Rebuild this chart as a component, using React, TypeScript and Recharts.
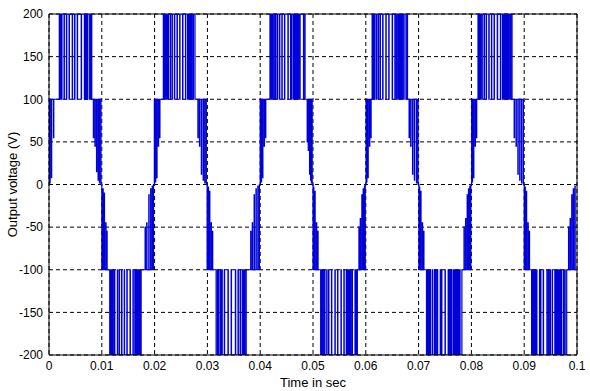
import { LineChart, Line, XAxis, YAxis, CartesianGrid, ReferenceLine } from "recharts";

// all times in ms, voltages in V
const xTicks = [0, 0.01, 0.02, 0.03, 0.04, 0.05, 0.06, 0.07, 0.08, 0.09, 0.1];
const xTickLabels = ["0", "0.01", "0.02", "0.03", "0.04", "0.05", "0.06", "0.07", "0.08", "0.09", "0.1"];
const yTicks = [-200, -150, -100, -50, 0, 50, 100, 150, 200];

const zeroCrossings = [9.85, 19.8, 29.8, 39.85, 49.85, 59.9, 69.9, 79.9, 89.85];

// outer band (100 <-> 200): first = band start, last = band end, middle = switching columns
const outer0 = [1.95, 2.1, 2.25, 2.4, 2.85, 3.3, 3.8, 4.4, 4.85, 5.35, 6.1, 6.7, 6.85, 7.0, 7.15, 7.3, 7.7, 7.9, 8.1];
const outer1 = [11.5, 11.65, 11.8, 11.95, 12.1, 12.4, 12.95, 13.3, 13.75, 14.25, 14.75, 15.35, 15.9, 16.25, 16.4, 16.55, 16.7, 16.85, 17.0, 17.25, 17.45];
const outer2 = [21.65, 21.8, 21.95, 22.1, 22.3, 22.55, 22.95, 23.3, 23.75, 24.25, 24.75, 25.3, 25.85, 26.25, 26.4, 26.55, 26.7, 26.85, 27.0, 27.3, 27.65];
const outer3 = [31.65, 31.9, 32.1, 32.45, 32.6, 32.75, 33.2, 33.9, 34.5, 35.3, 35.8, 36.2, 36.6, 36.75, 36.9, 37.05, 37.35];
const outer4 = [41.85, 42.0, 42.15, 42.3, 42.6, 42.9, 43.25, 43.65, 44.1, 44.6, 45.25, 45.75, 45.95, 46.3, 46.45, 46.6, 46.75, 46.9, 47.05, 47.25, 47.5, 48.2, 48.5];
const outer5 = [51.45, 51.6, 51.75, 51.9, 52.2, 52.6, 52.95, 53.5, 54.15, 54.65, 55.3, 55.85, 56.3, 56.45, 56.65, 56.8, 56.95, 57.1, 57.4, 57.95, 58.15, 58.4];
const outer6 = [61.2, 61.35, 61.5, 61.65, 62.0, 62.35, 62.7, 63.2, 63.8, 64.35, 65.0, 65.5, 65.8, 66.1, 66.25, 66.4, 66.55, 66.7, 66.9, 67.2, 67.6, 67.9];
const outer7 = [71.5, 71.65, 71.8, 72.0, 72.2, 72.6, 73.0, 73.25, 73.55, 74.1, 74.35, 75.0, 75.6, 75.8, 76.0, 76.25, 76.6, 76.8, 77.0, 77.2, 77.4, 77.6, 77.8, 78.2];
const outer8 = [81.25, 81.4, 81.55, 81.7, 82.0, 82.4, 82.8, 83.3, 83.8, 84.3, 84.9, 85.5, 85.9, 86.1, 86.3, 86.5, 86.7, 86.9, 87.1, 87.4, 87.7];
const outer9 = [91.4, 91.55, 91.7, 91.9, 92.1, 92.35, 92.9, 93.1, 93.6, 94.3, 94.6, 94.9, 95.3, 95.8, 96.0, 96.2, 96.4, 96.6, 96.8, 97.0, 97.4, 97.7, 98.05];

// inner band spikes: [time, tip voltage]
const rise0 = [[0.15, 2], [0.45, 8], [0.85, 55]];
const fall0 = [[8.4, 55], [8.7, 45], [9.0, 15], [9.3, 5], [9.55, 2]];
const rise1 = [[10.2, -5], [10.45, -10], [10.75, -45], [10.95, -55]];
const fall1 = [[18.2, -50], [18.5, -45], [18.9, -12], [19.25, -5], [19.55, -2]];
const rise2 = [[20.15, 3], [20.4, 8], [20.7, 45], [20.95, 55]];
const fall2 = [[28.2, 55], [28.5, 45], [28.85, 12], [29.2, 5], [29.5, 2]];
const rise3 = [[30.15, -3], [30.4, -8], [30.7, -45], [30.95, -55]];
const fall3 = [[38.2, -55], [38.5, -45], [38.85, -12], [39.2, -5], [39.55, -2]];
const rise4 = [[40.2, 3], [40.45, 8], [40.75, 45], [41.0, 55]];
const fall4 = [[48.9, 50], [49.1, 40], [49.35, 12], [49.55, 5], [49.7, 2]];
const rise5 = [[50.1, -3], [50.35, -8], [50.65, -45], [50.9, -55]];
const fall5 = [[58.7, -50], [58.95, -40], [59.25, -12], [59.5, -5], [59.75, -2]];
const rise6 = [[60.15, 3], [60.4, 8], [60.7, 45], [60.95, 55]];
const fall6 = [[68.2, 55], [68.5, 45], [68.85, 12], [69.2, 5], [69.6, 2]];
const rise7 = [[70.15, -3], [70.4, -8], [70.7, -45], [70.95, -55]];
const fall7 = [[78.6, -50], [78.9, -40], [79.2, -12], [79.45, -5], [79.7, -2]];
const rise8 = [[80.15, 3], [80.4, 8], [80.7, 45], [80.95, 55]];
const fall8 = [[88.1, 55], [88.45, 45], [88.8, 12], [89.15, 5], [89.5, 2]];
const rise9 = [[90.15, -3], [90.4, -8], [90.7, -45], [90.95, -55]];
const fall9 = [[98.4, -50], [98.7, -40], [99.0, -12], [99.3, -5], [99.6, -2]];

const halves = [
  { sign: 1, rise: rise0, outer: outer0, fall: fall0 },
  { sign: -1, rise: rise1, outer: outer1, fall: fall1 },
  { sign: 1, rise: rise2, outer: outer2, fall: fall2 },
  { sign: -1, rise: rise3, outer: outer3, fall: fall3 },
  { sign: 1, rise: rise4, outer: outer4, fall: fall4 },
  { sign: -1, rise: rise5, outer: outer5, fall: fall5 },
  { sign: 1, rise: rise6, outer: outer6, fall: fall6 },
  { sign: -1, rise: rise7, outer: outer7, fall: fall7 },
  { sign: 1, rise: rise8, outer: outer8, fall: fall8 },
  { sign: -1, rise: rise9, outer: outer9, fall: fall9 },
];

const PULSE = 0.06; // ms, width of a narrow switching pulse

function buildWave() {
  const pts: { t: number; v: number }[] = [];
  const add = (ms: number, v: number) => pts.push({ t: ms / 1000, v });
  add(0, 0);
  add(0.05, 0);
  add(0.05, 100);
  halves.forEach((h, k) => {
    const base = 100 * h.sign;
    const peak = 200 * h.sign;
    const spike = ([t, tip]: number[]) => {
      add(t, base); add(t, tip); add(t + PULSE, tip); add(t + PULSE, base);
    };
    h.rise.forEach(spike);
    const cols = h.outer;
    add(cols[0], base);
    add(cols[0], peak);
    cols.slice(1, -1).forEach((d) => {
      add(d, peak); add(d, base); add(d + PULSE, base); add(d + PULSE, peak);
    });
    add(cols[cols.length - 1], peak);
    add(cols[cols.length - 1], base);
    h.fall.forEach(spike);
    if (k < zeroCrossings.length) {
      const z = zeroCrossings[k];
      add(z, base); add(z, 0); add(z + 0.15, 0); add(z + 0.15, -base);
    } else {
      add(100, base);
    }
  });
  return pts;
}

const wave = buildWave();
const font = "'Liberation Sans', Arial, sans-serif";

export default function App() {
  return (
    <div style={{ position: "absolute", left: 0, top: 0, width: 590, height: 391, background: "#fff" }}>
      <LineChart width={590} height={391} data={wave} margin={{ top: 14, right: 13, left: 0, bottom: 2 }}>
        <CartesianGrid stroke="#000" strokeDasharray="4 3" horizontalValues={yTicks} verticalValues={xTicks} />
        <XAxis
          dataKey="t"
          type="number"
          domain={[0, 0.1]}
          ticks={xTicks}
          tickFormatter={(v: number) => xTickLabels[xTicks.indexOf(v)] ?? String(v)}
          allowDataOverflow
          height={34}
          tickLine={false}
          tickSize={4}
          tickMargin={2}
          axisLine={{ stroke: "#000" }}
          tick={{ fontSize: 12, fill: "#000", fontFamily: font }}
          label={{ value: "Time in sec", position: "insideBottom", offset: 2, fill: "#000", fontSize: 13, fontFamily: font }}
        />
        <YAxis
          type="number"
          domain={[-200, 200]}
          ticks={yTicks}
          allowDataOverflow
          width={49}
          tickLine={false}
          tickSize={4}
          tickMargin={2}
          axisLine={{ stroke: "#000" }}
          tick={{ fontSize: 12, fill: "#000", fontFamily: font }}
          label={{ value: "Output voltage (V)", angle: -90, position: "insideLeft", offset: 12, fill: "#000", fontSize: 13, fontFamily: font, style: { textAnchor: "middle" } }}
        />
        <ReferenceLine y={200} stroke="#000" />
        <ReferenceLine x={0.1} stroke="#000" />
        <Line type="linear" dataKey="v" stroke="#0000d8" strokeWidth={1.2} dot={false} isAnimationActive={false} />
      </LineChart>
    </div>
  );
}
